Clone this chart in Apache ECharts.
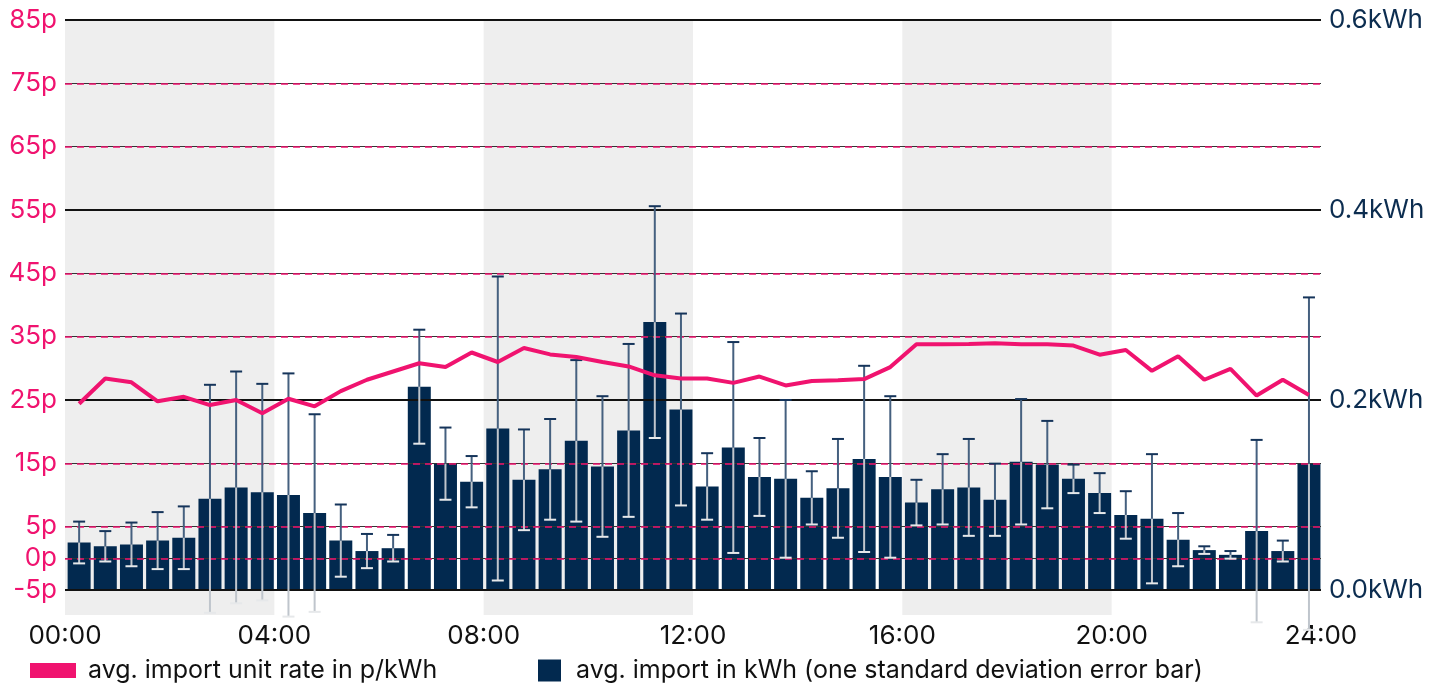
<!DOCTYPE html>
<html>
<head>
<meta charset="utf-8">
<script src="https://cdn.jsdelivr.net/npm/echarts@6/dist/echarts.min.js"></script>
<style>
html, body { margin: 0; padding: 0; background: #fff; }
#chart { width: 1439px; height: 683px; }
</style>
</head>
<body>
<div id="chart"></div>
<script>
// half-hour slots
var slots = ['00:00','00:30','01:00','01:30','02:00','02:30','03:00','03:30',
             '04:00','04:30','05:00','05:30','06:00','06:30','07:00','07:30',
             '08:00','08:30','09:00','09:30','10:00','10:30','11:00','11:30',
             '12:00','12:30','13:00','13:30','14:00','14:30','15:00','15:30',
             '16:00','16:30','17:00','17:30','18:00','18:30','19:00','19:30',
             '20:00','20:30','21:00','21:30','22:00','22:30','23:00','23:30'];

// avg import, kWh
var importKwh = [0.050, 0.046, 0.048, 0.052, 0.055, 0.096, 0.108, 0.103,
                 0.100, 0.081, 0.052, 0.041, 0.044, 0.214, 0.133, 0.114,
                 0.170, 0.116, 0.127, 0.157, 0.130, 0.168, 0.282, 0.190,
                 0.109, 0.150, 0.119, 0.117, 0.097, 0.107, 0.138, 0.119,
                 0.092, 0.106, 0.108, 0.095, 0.135, 0.132, 0.117, 0.102,
                 0.079, 0.075, 0.053, 0.042, 0.037, 0.062, 0.041, 0.133];

// one standard deviation, kWh
var importSd = [0.022, 0.016, 0.023, 0.030, 0.033, 0.120, 0.122, 0.114,
                0.128, 0.104, 0.038, 0.018, 0.014, 0.060, 0.038, 0.027,
                0.160, 0.053, 0.053, 0.085, 0.074, 0.091, 0.122, 0.101,
                0.035, 0.111, 0.041, 0.083, 0.028, 0.052, 0.098, 0.085,
                0.024, 0.037, 0.051, 0.038, 0.066, 0.046, 0.015, 0.021,
                0.025, 0.068, 0.028, 0.004, 0.004, 0.096, 0.011, 0.175];

// avg import unit rate, p/kWh
var unitRate = [24.4, 28.4, 27.8, 24.8, 25.5, 24.2, 25.0, 22.9,
                25.2, 24.0, 26.4, 28.2, 29.5, 30.8, 30.2, 32.5,
                31.0, 33.2, 32.2, 31.8, 31.0, 30.3, 28.9, 28.4,
                28.4, 27.7, 28.7, 27.3, 28.0, 28.1, 28.3, 30.2,
                33.8, 33.8, 33.85, 33.95, 33.8, 33.8, 33.6, 32.15,
                32.9, 29.6, 31.9, 28.2, 29.9, 25.7, 28.2, 25.8];

var rateTicks = [-5, 0, 5, 15, 25, 35, 45, 55, 65, 75, 85];
var kwhTicks = [0, 0.2, 0.4, 0.6];
var shadedHours = [[0, 4], [8, 12], [16, 20]];

var rateName = 'avg. import unit rate in p/kWh';
var kwhName = 'avg. import in kWh (one standard deviation error bar)';

var FONT = 'Inter';
var PINK = '#f0136f';
var NAVY = '#02294f';

function slotCentre(s) {
    var hm = s.split(':');
    return parseInt(hm[0], 10) + parseInt(hm[1], 10) / 60 + 0.27;
}

var barData = [], lineData = [], errData = [];
for (var i = 0; i < slots.length; i++) {
    var x = slotCentre(slots[i]);
    barData.push([x, importKwh[i]]);
    lineData.push([x, unitRate[i]]);
    errData.push([x, importKwh[i], importSd[i]]);
}

var bands = [];
for (var j = 0; j < shadedHours.length; j++) {
    bands.push([{ xAxis: shadedHours[j][0] }, { xAxis: shadedHours[j][1] }]);
}

function renderErr(params, api) {
    var x = api.value(0), m = api.value(1), s = api.value(2);
    var top = api.coord([x, m + s]);
    var mid = api.coord([x, m]);
    var bot = api.coord([x, m - s]);
    var cw = 6;
    return {
        type: 'group',
        children: [
            { type: 'line', shape: { x1: mid[0], y1: mid[1], x2: bot[0], y2: bot[1] },
              style: { stroke: '#bfc5cc', lineWidth: 2 } },
            { type: 'line', shape: { x1: bot[0] - cw, y1: bot[1], x2: bot[0] + cw, y2: bot[1] },
              style: { stroke: '#e6e8ea', lineWidth: 2 } },
            { type: 'line', shape: { x1: top[0], y1: top[1], x2: mid[0], y2: mid[1] },
              style: { stroke: '#45607f', lineWidth: 2 } },
            { type: 'line', shape: { x1: top[0] - cw, y1: top[1], x2: top[0] + cw, y2: top[1] },
              style: { stroke: '#15345a', lineWidth: 2 } }
        ]
    };
}

var chart = echarts.init(document.getElementById('chart'));

chart.setOption({
    animation: false,
    backgroundColor: '#fff',
    grid: { left: 65, right: 118, top: 20, bottom: 68 },
    legend: [
        {
            left: 25, top: 653,
            itemWidth: 46, itemHeight: 15,
            data: [{ name: rateName, icon: 'rect' }],
            textStyle: { fontFamily: FONT, fontSize: 25, color: '#111', padding: [0, 0, 0, 7] },
            selectedMode: false
        },
        {
            left: 533, top: 653,
            itemWidth: 23, itemHeight: 22,
            data: [{ name: kwhName, icon: 'rect' }],
            textStyle: { fontFamily: FONT, fontSize: 25, color: '#111', padding: [0, 0, 0, 10] },
            selectedMode: false
        }
    ],
    xAxis: {
        type: 'value', min: 0, max: 24, interval: 4,
        axisLine: { show: false },
        axisTick: { show: false },
        splitLine: { show: false },
        axisLabel: {
            fontFamily: FONT, fontSize: 26, color: '#111', margin: 8,
            formatter: function (v) { return (v < 10 ? '0' : '') + v + ':00'; }
        }
    },
    yAxis: [
        {   // pence, pink dashed lines
            type: 'value', position: 'left', min: -8.947, max: 85, z: 3,
            axisLine: { show: false },
            axisTick: { show: false, customValues: rateTicks },
            axisLabel: {
                customValues: rateTicks,
                fontFamily: FONT, fontSize: 26, color: PINK, margin: 8,
                formatter: function (v) { return v + 'p'; }
            },
            splitLine: { lineStyle: { color: PINK, width: 1.5, type: [7, 5] } }
        },
        {   // kWh, black solid lines
            type: 'value', position: 'right', min: -0.026316, max: 0.6, z: 3,
            axisLine: { show: false },
            axisTick: { show: false, customValues: kwhTicks },
            axisLabel: {
                customValues: kwhTicks,
                fontFamily: FONT, fontSize: 26, color: '#0c2d50', margin: 8,
                formatter: function (v) { return v.toFixed(1) + 'kWh'; }
            },
            splitLine: { lineStyle: { color: '#111', width: 2 } }
        },
        {   // dark line under the pink dashes
            type: 'value', position: 'left', min: -8.947, max: 85, z: 2,
            axisLine: { show: false },
            axisTick: { show: false, customValues: rateTicks },
            axisLabel: { show: false, customValues: rateTicks },
            splitLine: { lineStyle: { color: '#333', width: 1 } }
        }
    ],
    series: [
        {
            name: 'bands', type: 'line', xAxisIndex: 0, yAxisIndex: 1, z: 0,
            data: [], silent: true,
            markArea: { silent: true, itemStyle: { color: '#eeeeee' }, data: bands }
        },
        {
            name: kwhName, type: 'bar', xAxisIndex: 0, yAxisIndex: 1, z: 1,
            barWidth: 23, itemStyle: { color: NAVY },
            data: barData
        },
        {
            name: 'err', type: 'custom', xAxisIndex: 0, yAxisIndex: 1, z: 4,
            clip: false, silent: true,
            renderItem: renderErr,
            encode: { x: 0, y: 1 },
            data: errData
        },
        {
            name: rateName, type: 'line', xAxisIndex: 0, yAxisIndex: 0, z: 5,
            symbol: 'none', itemStyle: { color: PINK },
            lineStyle: { color: PINK, width: 4 },
            data: lineData
        }
    ]
});
</script>
</body>
</html>
